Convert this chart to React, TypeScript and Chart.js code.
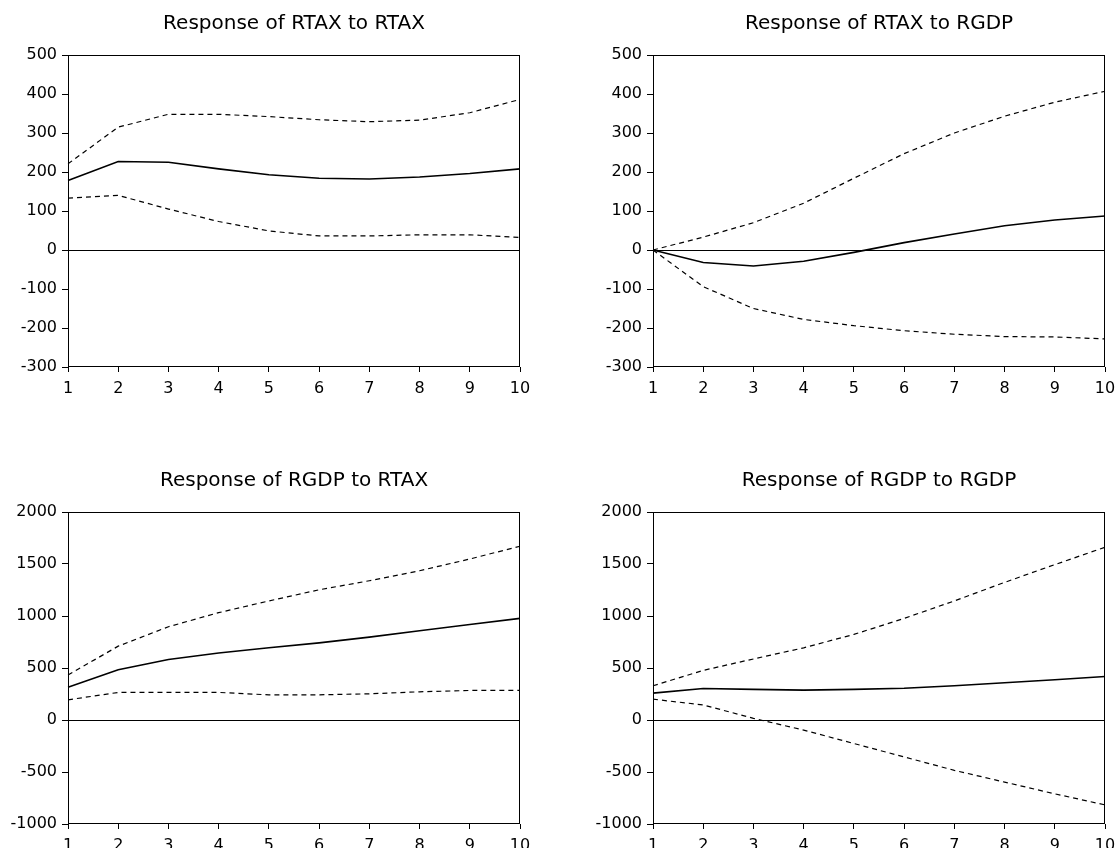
import React, { useEffect, useRef } from 'react';
import { Chart, registerables } from 'chart.js';

Chart.register(...registerables);

const periods = ['1', '2', '3', '4', '5', '6', '7', '8', '9', '10'];

const rtaxToRtax = [178, 227, 225, 208, 193, 184, 182, 187, 196, 208];
const rtaxToRtaxUpper = [221, 315, 348, 348, 342, 334, 329, 333, 352, 386];
const rtaxToRtaxLower = [133, 140, 105, 73, 49, 36, 36, 39, 39, 32];

const rtaxToRgdp = [0, -32, -41, -29, -6, 19, 41, 62, 77, 87];
const rtaxToRgdpUpper = [0, 33, 70, 120, 184, 247, 300, 343, 379, 407];
const rtaxToRgdpLower = [0, -94, -150, -178, -194, -207, -216, -222, -223, -228];

const rgdpToRtax = [316, 484, 581, 645, 694, 742, 797, 858, 919, 977];
const rgdpToRtaxUpper = [432, 710, 897, 1032, 1145, 1252, 1339, 1435, 1548, 1671];
const rgdpToRtaxLower = [194, 265, 265, 265, 242, 242, 252, 271, 284, 284];

const rgdpToRgdp = [258, 303, 294, 287, 294, 306, 329, 358, 387, 419];
const rgdpToRgdpUpper = [329, 477, 587, 694, 823, 977, 1145, 1323, 1494, 1661];
const rgdpToRgdpLower = [200, 145, 16, -97, -226, -355, -484, -597, -710, -816];

const rtaxAxis = { min: -300, max: 500, step: 100 };
const rgdpAxis = { min: -1000, max: 2000, step: 500 };

const FONT = "'DejaVu Sans', sans-serif";

const framePlugin = {
  id: 'frame',
  afterDraw(chart: any) {
    const { ctx, chartArea } = chart;
    const l = Math.round(chartArea.left) + 0.5;
    const t = Math.round(chartArea.top) + 0.5;
    const r = Math.round(chartArea.right) - 0.5;
    const b = Math.round(chartArea.bottom) - 0.5;
    ctx.save();
    ctx.strokeStyle = '#000';
    ctx.lineWidth = 1;
    ctx.strokeRect(l, t, r - l, b - t);
    ctx.restore();
  },
};

type PanelProps = {
  title: string;
  mean: number[];
  upper: number[];
  lower: number[];
  axis: { min: number; max: number; step: number };
  left: number;
  top: number;
  width: number;
  height: number;
  padRight: number;
  xAxisHeight: number;
};

function Panel(p: PanelProps) {
  const ref = useRef<HTMLCanvasElement | null>(null);
  useEffect(() => {
    if (!ref.current) return;
    const dashed = {
      borderColor: '#000',
      borderWidth: 1.2,
      borderDash: [5, 4],
      pointRadius: 0,
      tension: 0,
      fill: false,
    };
    const chart = new Chart(ref.current, {
      type: 'line',
      data: {
        labels: periods,
        datasets: [
          { label: 'Upper', data: p.upper, ...dashed },
          {
            label: 'Response',
            data: p.mean,
            borderColor: '#000',
            borderWidth: 1.6,
            pointRadius: 0,
            tension: 0,
            fill: false,
          },
          { label: 'Lower', data: p.lower, ...dashed },
        ],
      },
      options: {
        animation: false,
        responsive: false,
        events: [],
        layout: { padding: { left: 0, right: p.padRight, top: 0, bottom: 0 } },
        plugins: {
          legend: { display: false },
          tooltip: { enabled: false },
          title: {
            display: true,
            text: p.title,
            fullSize: false,
            color: '#000',
            font: { family: FONT, size: 20, weight: 'normal' },
            padding: { top: 12, bottom: 19 },
          },
        },
        scales: {
          x: {
            type: 'category',
            offset: false,
            border: { display: false },
            grid: {
              drawOnChartArea: false,
              drawTicks: true,
              tickLength: 5,
              tickColor: '#000',
              tickWidth: 1,
            },
            ticks: {
              color: '#000',
              font: { family: FONT, size: 16 },
              padding: 7,
              maxRotation: 0,
              autoSkip: false,
            },
            afterFit: (scale: any) => {
              scale.height = p.xAxisHeight;
            },
          },
          y: {
            min: p.axis.min,
            max: p.axis.max,
            border: { display: false },
            grid: {
              drawOnChartArea: true,
              drawTicks: true,
              tickLength: 6,
              tickColor: '#000',
              tickWidth: 1,
              lineWidth: 1,
              color: (ctx: any) =>
                ctx.tick && ctx.tick.value === 0 ? '#000' : 'rgba(0,0,0,0)',
            },
            ticks: {
              stepSize: p.axis.step,
              color: '#000',
              font: { family: FONT, size: 16 },
              padding: 5,
              callback: (value: any) => String(value),
            },
            afterFit: (scale: any) => {
              scale.width = 68;
            },
          },
        },
      },
      plugins: [framePlugin],
    });
    return () => chart.destroy();
  }, []);
  return (
    <div style={{ position: 'absolute', left: p.left, top: p.top, width: p.width, height: p.height }}>
      <canvas ref={ref} width={p.width} height={p.height} style={{ display: 'block' }} />
    </div>
  );
}

export default function App() {
  return (
    <div
      style={{
        position: 'absolute',
        left: 0,
        top: 0,
        width: 1117,
        height: 848,
        overflow: 'hidden',
        background: '#fff',
      }}
    >
      <Panel
        title="Response of RTAX to RTAX"
        mean={rtaxToRtax}
        upper={rtaxToRtaxUpper}
        lower={rtaxToRtaxLower}
        axis={rtaxAxis}
        left={0}
        top={0}
        width={560}
        height={424}
        padRight={40}
        xAxisHeight={57}
      />
      <Panel
        title="Response of RTAX to RGDP"
        mean={rtaxToRgdp}
        upper={rtaxToRgdpUpper}
        lower={rtaxToRgdpLower}
        axis={rtaxAxis}
        left={585}
        top={0}
        width={560}
        height={424}
        padRight={40}
        xAxisHeight={57}
      />
      <Panel
        title="Response of RGDP to RTAX"
        mean={rgdpToRtax}
        upper={rgdpToRtaxUpper}
        lower={rgdpToRtaxLower}
        axis={rgdpAxis}
        left={0}
        top={457}
        width={560}
        height={391}
        padRight={40}
        xAxisHeight={24}
      />
      <Panel
        title="Response of RGDP to RGDP"
        mean={rgdpToRgdp}
        upper={rgdpToRgdpUpper}
        lower={rgdpToRgdpLower}
        axis={rgdpAxis}
        left={585}
        top={457}
        width={560}
        height={391}
        padRight={40}
        xAxisHeight={24}
      />
    </div>
  );
}
